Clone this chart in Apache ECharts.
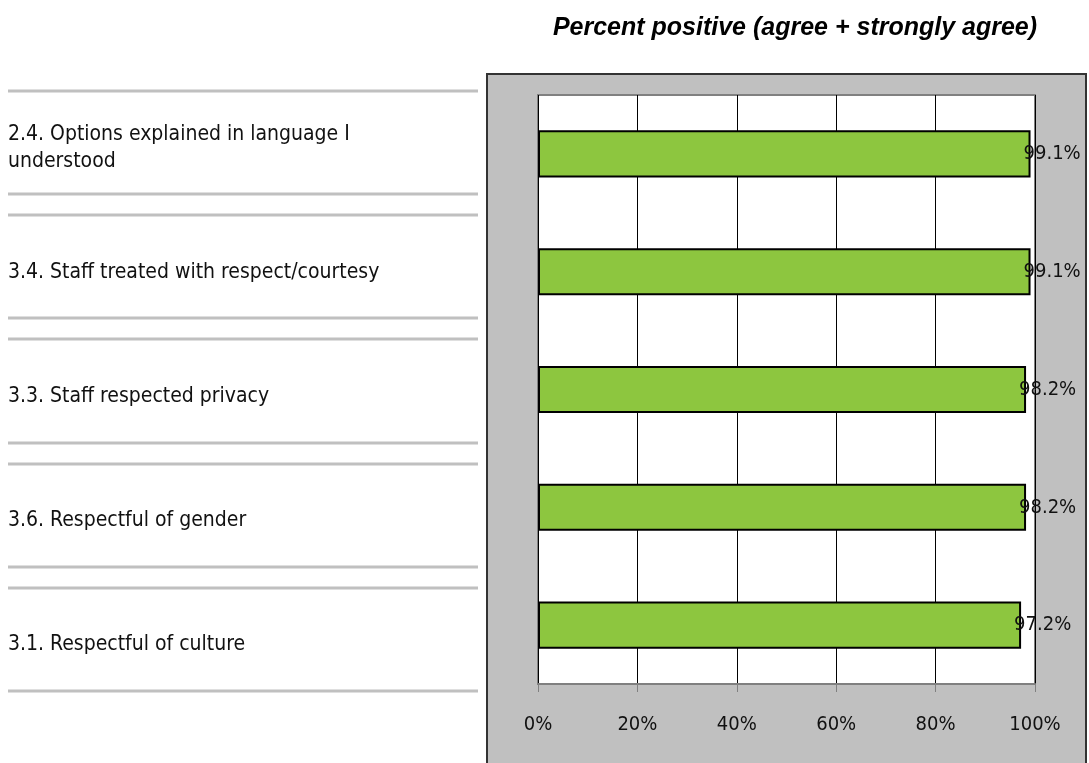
<!DOCTYPE html>
<html>
<head>
<meta charset="utf-8">
<script src="https://cdn.jsdelivr.net/npm/echarts@6/dist/echarts.min.js"></script>
<style>
  html, body { margin: 0; padding: 0; background: #fff; }
  #chart { width: 1089px; height: 763px; }
</style>
</head>
<body>
<div id="chart"></div>
<script>
// survey items, top to bottom
var categories = [
  '2.4. Options explained in language I\nunderstood',
  '3.4. Staff treated with respect/courtesy',
  '3.3. Staff respected privacy',
  '3.6. Respectful of gender',
  '3.1. Respectful of culture'
];
var percentPositive = [99.1, 99.1, 98.2, 98.2, 97.2];
var tickLabels = ['0%', '20%', '40%', '60%', '80%', '100%'];

var chartTitle = 'Percent positive (agree + strongly agree)';
var narrow = '"Liberation Sans Narrow", "DejaVu Sans Condensed", "Arial Narrow", sans-serif';

// table rules on the left (y of each gray line)
var ruleY = [91, 194, 215, 318, 339, 443, 464, 567, 588, 691];

var graphics = [{
  type: 'rect',
  z: -10,
  silent: true,
  shape: { x: 487, y: 74, width: 599, height: 720 },
  style: { fill: '#c0c0c0', stroke: '#333', lineWidth: 2 }
}];
ruleY.forEach(function (y) {
  graphics.push({
    type: 'line',
    z: -5,
    silent: true,
    shape: { x1: 8, y1: y, x2: 478, y2: y },
    style: { stroke: '#c0c0c0', lineWidth: 3 }
  });
});

var chart = echarts.init(document.getElementById('chart'));

var option = {
  animation: false,
  title: {
    text: chartTitle,
    left: 790,
    top: 11,
    textAlign: 'center',
    textStyle: {
      fontFamily: '"Liberation Sans", Arial, sans-serif',
      fontSize: 25,
      fontWeight: 'bold',
      fontStyle: 'italic',
      color: '#000'
    }
  },
  graphic: graphics,
  grid: [{
    left: 538, top: 95, width: 497, height: 589,
    show: true,
    backgroundColor: '#fff',
    borderColor: '#808080',
    borderWidth: 2
  }, {
    left: 8, top: 86, width: 470, height: 621
  }],
  xAxis: [{
    gridIndex: 0,
    type: 'value',
    min: 0, max: 100, interval: 20,
    axisLine: { show: true, lineStyle: { color: '#808080', width: 2 } },
    axisTick: { show: true, length: 8, lineStyle: { color: '#808080', width: 1 } },
    splitLine: { show: true, lineStyle: { color: '#000', width: 1 } },
    axisLabel: {
      margin: 31,
      fontFamily: narrow,
      fontSize: 20,
      color: '#111',
      formatter: function (v) { return tickLabels[Math.round(v / 20)]; }
    }
  }, {
    gridIndex: 1,
    type: 'value',
    show: false
  }],
  yAxis: [{
    gridIndex: 0,
    type: 'category',
    inverse: true,
    data: categories,
    axisLine: { show: false },
    axisTick: { show: false },
    axisLabel: { show: false },
    splitLine: { show: false }
  }, {
    gridIndex: 1,
    type: 'category',
    inverse: true,
    data: categories,
    axisLine: { show: false },
    axisTick: { show: false },
    splitLine: { show: false },
    axisLabel: {
      align: 'left',
      margin: 0,
      fontFamily: narrow,
      fontSize: 21,
      lineHeight: 27,
      color: '#111'
    }
  }],
  series: [{
    type: 'bar',
    xAxisIndex: 0,
    yAxisIndex: 0,
    data: percentPositive,
    barWidth: '40%',
    itemStyle: { color: '#8dc63f', borderColor: '#000', borderWidth: 2 },
    label: {
      show: true,
      position: 'right',
      distance: -7,
      fontFamily: narrow,
      fontSize: 20,
      color: '#111',
      formatter: function (p) { return p.value.toFixed(1) + '%'; }
    }
  }]
};

chart.setOption(option);
</script>
</body>
</html>
